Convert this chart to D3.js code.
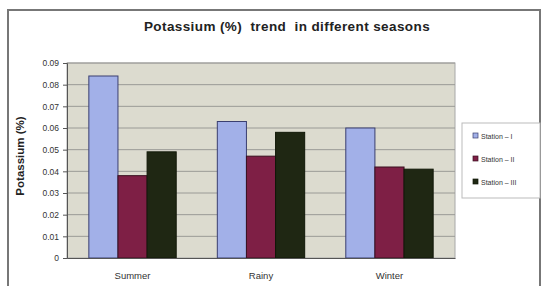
<!DOCTYPE html>
<html><head><meta charset="utf-8">
<script src="https://cdn.jsdelivr.net/npm/d3@7"></script>
<style>body{margin:0;background:#fff;}svg{display:block;}</style>
</head><body>
<svg id="c" width="543" height="286"></svg>
<script>
const categories = ["Summer", "Rainy", "Winter"];
const seriesNames = ["Station – I", "Station – II", "Station – III"];
const stationI = [0.084, 0.063, 0.060];
const stationII = [0.038, 0.047, 0.042];
const stationIII = [0.049, 0.058, 0.041];
const yTicks = [0, 0.01, 0.02, 0.03, 0.04, 0.05, 0.06, 0.07, 0.08, 0.09];
const colors = ["#a2b0e8", "#7e1f45", "#1f2713"];
const strokes = ["#3a3f70", "#3a1020", "#111808"];

const series = [stationI, stationII, stationIII];
const svg = d3.select("#c");
const font = "Liberation Sans, Arial, sans-serif";

// outer frame
svg.append("rect").attr("x", 8).attr("y", 10).attr("width", 532).attr("height", 285)
  .attr("fill", "#fff").attr("stroke", "#777").attr("stroke-width", 2);

const m = {l: 67, r: 455, t: 63, b: 258};
const x0 = d3.scaleBand().domain(categories).range([m.l, m.r]).paddingInner(0.32).paddingOuter(0.17);
const x1 = d3.scaleBand().domain(d3.range(3)).range([0, x0.bandwidth()]);
const y = d3.scaleLinear().domain([0, 0.09]).range([m.b, m.t]);

svg.append("rect").attr("x", m.l).attr("y", m.t).attr("width", m.r - m.l).attr("height", m.b - m.t)
  .attr("fill", "#dcdbcf").attr("stroke", "#a8a8a8").attr("stroke-width", 1);

svg.append("g").selectAll("line").data(yTicks.slice(1)).join("line")
  .attr("x1", m.l).attr("x2", m.r).attr("y1", d => y(d)).attr("y2", d => y(d))
  .attr("stroke", "#9a9a96").attr("stroke-width", 1);

// bars
const g = svg.append("g");
categories.forEach((c, ci) => {
  series.forEach((s, si) => {
    g.append("rect")
      .attr("x", x0(c) + x1(si)).attr("width", x1.bandwidth())
      .attr("y", y(s[ci])).attr("height", m.b - y(s[ci]))
      .attr("fill", colors[si]).attr("stroke", strokes[si]).attr("stroke-width", 1);
  });
});

// y axis
const ya = svg.append("g").attr("transform", `translate(${m.l},0)`)
  .call(d3.axisLeft(y).tickValues(yTicks).tickSize(4).tickPadding(4)
    .tickFormat(d => d === 0 ? "0" : d3.format(".2f")(d)));
ya.select(".domain").attr("stroke", "#555");
ya.selectAll(".tick line").attr("stroke", "#555");
ya.selectAll("text").attr("font-family", font).attr("font-size", 8.5).attr("fill", "#333");

// x axis
const xa = svg.append("g").attr("transform", `translate(0,${m.b})`)
  .call(d3.axisBottom(x0).tickSize(0).tickPadding(14));
xa.select(".domain").attr("stroke", "#555");
xa.selectAll("text").attr("font-family", font).attr("font-size", 9.5).attr("fill", "#333");

// title
svg.append("text").attr("x", 287).attr("y", 31).attr("text-anchor", "middle")
  .style("white-space", "pre").attr("letter-spacing", 0.4)
  .attr("font-family", font).attr("font-weight", "bold").attr("font-size", 13.5).attr("fill", "#222")
  .text("Potassium (%)  trend  in different seasons");

// y title
svg.append("text").attr("transform", "translate(24,156) rotate(-90)").attr("text-anchor", "middle")
  .attr("font-family", font).attr("font-weight", "bold").attr("font-size", 11.5).attr("fill", "#222")
  .text("Potassium (%)");

// legend
const lg = svg.append("g");
lg.append("rect").attr("x", 462).attr("y", 123).attr("width", 78).attr("height", 75)
  .attr("fill", "#fff").attr("stroke", "#bbb");
seriesNames.forEach((n, i) => {
  const yy = [136, 159, 182][i];
  lg.append("rect").attr("x", 473).attr("y", yy - 3).attr("width", 5).attr("height", 5)
    .attr("fill", colors[i]).attr("stroke", strokes[i]).attr("stroke-width", 0.7);
  lg.append("text").attr("x", 481).attr("y", yy + 2.5).attr("font-family", font)
    .attr("font-size", 7).attr("fill", "#333").text(n);
});
</script>
</body></html>
